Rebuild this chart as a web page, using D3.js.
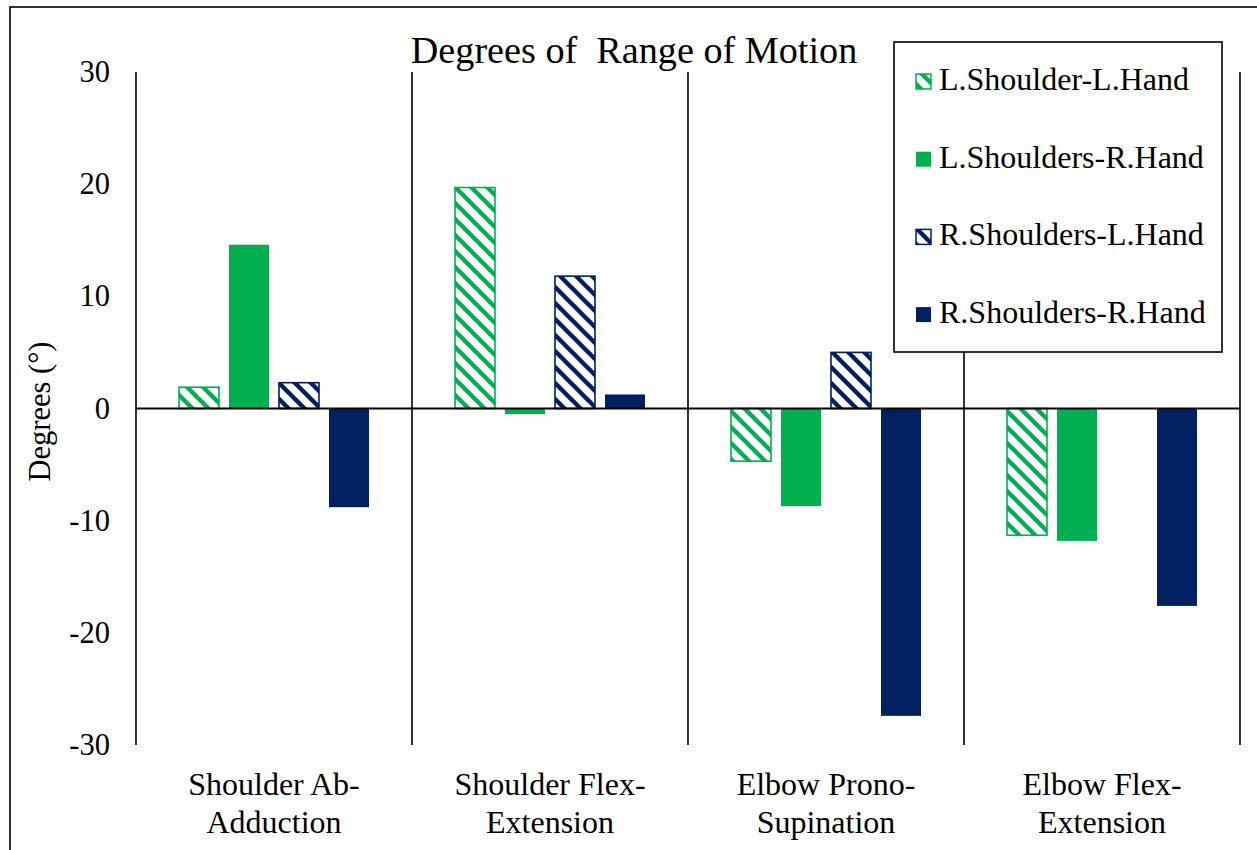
<!DOCTYPE html>
<html>
<head>
<meta charset="utf-8">
<script src="https://cdn.jsdelivr.net/npm/d3@7"></script>
<style>
  html, body { margin: 0; padding: 0; background: #fff; }
  svg { display: block; }
  text { font-family: "Liberation Serif", "Times New Roman", serif; fill: #000; }
</style>
</head>
<body>
<svg id="chart" width="1257" height="850" font-family="Liberation Serif, Times New Roman, serif"></svg>
<script>
// ---- data ----
const categories = ["Shoulder Ab-Adduction", "Shoulder Flex-Extension", "Elbow Prono-Supination", "Elbow Flex-Extension"];
const categoryLines = [["Shoulder Ab-", "Adduction"], ["Shoulder Flex-", "Extension"], ["Elbow Prono-", "Supination"], ["Elbow Flex-", "Extension"]];
const seriesNames = ["L.Shoulder-L.Hand", "L.Shoulders-R.Hand", "R.Shoulders-L.Hand", "R.Shoulders-R.Hand"];
const lShoulderLHand = [1.9, 19.7, -4.7, -11.3];
const lShouldersRHand = [14.6, -0.5, -8.7, -11.8];
const rShouldersLHand = [2.3, 11.8, 5.0, 0];
const rShouldersRHand = [-8.8, 1.25, -27.4, -17.6];
const yTicks = [-30, -20, -10, 0, 10, 20, 30];
const titleText = "Degrees of\u00a0 Range of Motion";
const yTitle = "Degrees (°)";

const seriesValues = [lShoulderLHand, lShouldersRHand, rShouldersLHand, rShouldersRHand];
const seriesColor = ["#00B050", "#00B050", "#002060", "#002060"];
const seriesPatterned = [true, false, true, false];

const svg = d3.select("#chart");

// patterns
const defs = svg.append("defs");
seriesColor.forEach((c, i) => {
  if (!seriesPatterned[i]) return;
  const p = defs.append("pattern")
    .attr("id", "pat" + i)
    .attr("patternUnits", "userSpaceOnUse")
    .attr("width", 16).attr("height", 16);
  p.append("rect").attr("width", 16).attr("height", 16).attr("fill", "#fff");
  p.append("path")
    .attr("d", "M-4,-4 L20,20 M-4,12 L4,20 M12,-4 L20,4")
    .attr("stroke", c).attr("stroke-width", 4.4).attr("fill", "none");
});
const fillFor = i => seriesPatterned[i] ? `url(#pat${i})` : seriesColor[i];

// outer border
svg.append("rect").attr("x", 10).attr("y", 7).attr("width", 1400).attr("height", 1000)
  .attr("fill", "none").attr("stroke", "#000").attr("stroke-width", 1.6);

// scales
const x0 = d3.scaleBand().domain(categories).range([136, 1240]).paddingInner(0).paddingOuter(0);
const x1 = d3.scaleBand().domain(d3.range(seriesNames.length)).range([0, x0.bandwidth()])
  .paddingInner(0.2).paddingOuter(0.86);
const y = d3.scaleLinear().domain([-30, 30]).range([745, 72]);

// bars
const groups = svg.append("g").selectAll("g").data(categories).join("g")
  .attr("transform", d => `translate(${x0(d)},0)`);
groups.selectAll("rect")
  .data((d, ci) => seriesValues.map((vals, si) => ({ si, v: vals[ci] })).filter(o => o.v !== 0))
  .join("rect")
  .attr("x", o => x1(o.si))
  .attr("width", x1.bandwidth())
  .attr("y", o => y(Math.max(0, o.v)))
  .attr("height", o => Math.abs(y(o.v) - y(0)))
  .attr("fill", o => fillFor(o.si))
  .attr("stroke", o => seriesPatterned[o.si] ? seriesColor[o.si] : "none")
  .attr("stroke-width", 1.6);

// y axis line and category separators
const seps = [x0.range()[0]].concat(categories.map(c => x0(c) + x0.bandwidth()));
svg.append("g").selectAll("line").data(seps).join("line")
  .attr("x1", d => d).attr("x2", d => d)
  .attr("y1", y(30)).attr("y2", y(-30))
  .attr("stroke", "#000").attr("stroke-width", 1.6);

// zero line
svg.append("line").attr("x1", x0.range()[0]).attr("x2", x0.range()[1])
  .attr("y1", y(0)).attr("y2", y(0)).attr("stroke", "#000").attr("stroke-width", 2);

// y tick labels
svg.append("g").selectAll("text").data(yTicks).join("text")
  .attr("x", 110).attr("y", d => y(d) + 10)
  .attr("text-anchor", "end").attr("font-size", 30.5)
  .text(d => d);

// y title
svg.append("text")
  .attr("transform", `translate(50,${y(0) + 3}) rotate(-90)`)
  .attr("text-anchor", "middle").attr("font-size", 30.5)
  .text(yTitle);

// category labels
categories.forEach((c, i) => {
  const t = svg.append("text").attr("text-anchor", "middle").attr("font-size", 32);
  categoryLines[i].forEach((ln, k) => {
    t.append("tspan").attr("x", x0(c) + x0.bandwidth() / 2).attr("y", 795 + k * 38).text(ln);
  });
});

// title
svg.append("text").attr("x", 634).attr("y", 63).attr("text-anchor", "middle")
  .attr("font-size", 38.2).text(titleText);

// legend
const lg = svg.append("g");
lg.append("rect").attr("x", 894).attr("y", 42).attr("width", 328).attr("height", 310)
  .attr("fill", "#fff").attr("stroke", "#000").attr("stroke-width", 1.6);
seriesNames.forEach((n, i) => {
  const yy = 90 + i * 77.7;
  lg.append("rect").attr("x", 916).attr("y", yy - 16).attr("width", 15).attr("height", 15)
    .attr("fill", fillFor(i))
    .attr("stroke", seriesPatterned[i] ? seriesColor[i] : "none").attr("stroke-width", 1.5);
  lg.append("text").attr("x", 939).attr("y", yy).attr("font-size", 32).text(n);
});
</script>
</body>
</html>
